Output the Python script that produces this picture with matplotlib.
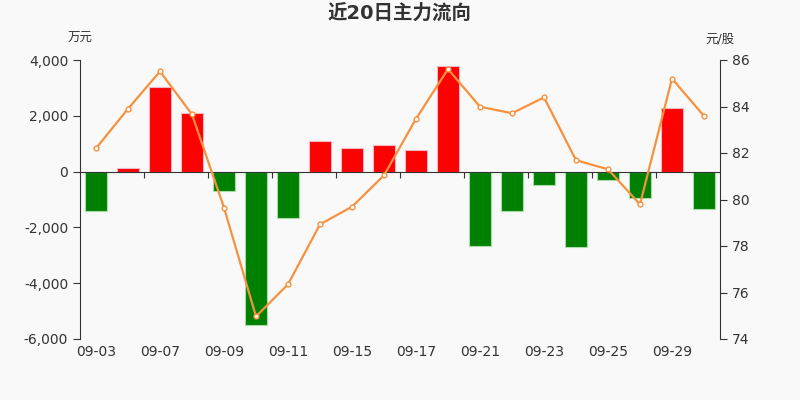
import matplotlib
matplotlib.use("Agg")
import matplotlib.pyplot as plt
import numpy as np

plt.rcParams['font.family'] = ['DejaVu Sans', 'Noto Sans CJK SC']

# data
dates = ['09-03', '09-04', '09-07', '09-08', '09-09', '09-10', '09-11', '09-14', '09-15', '09-16',
         '09-17', '09-18', '09-21', '09-22', '09-23', '09-24', '09-25', '09-28', '09-29', '09-30']
flow = [-1420, 130, 3020, 2100, -700, -5490, -1680, 1110, 850, 970,
        790, 3770, -2660, -1430, -490, -2690, -300, -930, 2280, -1330]
price = [82.20, 83.90, 85.51, 83.66, 79.65, 74.97, 76.35, 78.93, 79.69, 81.04,
         83.47, 85.61, 83.99, 83.71, 84.39, 81.69, 81.30, 79.79, 85.20, 83.59]

bg = '#f9f9f9'
txt = '#333333'

fig = plt.figure(figsize=(8, 4), dpi=100, facecolor=bg)
ax = fig.add_axes([0.1, 0.1525, 0.8, 0.6975], facecolor=bg)
x = np.arange(len(dates))

colors = ['#ff0000' if v > 0 else '#008000' for v in flow]
edges = ['#f4b6c2' if v > 0 else '#a8dca8' for v in flow]
ax.bar(x, flow, width=0.7, color=colors, edgecolor=edges, linewidth=0.8, zorder=2)

ax.set_xlim(-0.5, len(dates) - 0.5)
ax.set_ylim(-6000, 4000)
ax.set_yticks(range(-6000, 4001, 2000))
ax.yaxis.set_major_formatter(matplotlib.ticker.FuncFormatter(lambda v, p: f'{int(v):,}'))

for s in ['top', 'right']:
    ax.spines[s].set_visible(False)
ax.spines['left'].set_color(txt)
ax.spines['bottom'].set_position(('data', 0))
ax.spines['bottom'].set_color(txt)
ax.spines['bottom'].set_zorder(3)
ax.set_xticks(np.arange(1.5, len(dates) - 1, 2))
ax.tick_params(axis='x', length=4, color=txt, labelbottom=False)
ax.tick_params(axis='y', length=5, color=txt, labelcolor=txt, labelsize=10)

sec = ax.secondary_xaxis(0)
sec.set_xticks(x[::2])
sec.set_xticklabels(dates[::2])
sec.tick_params(length=0, labelcolor=txt, labelsize=10, pad=4)
sec.spines['bottom'].set_visible(False)

ax2 = ax.twinx()
ax2.plot(x, price, color='#f7913d', linewidth=1.6, marker='o', markersize=3.5,
         markerfacecolor='white', markeredgecolor='#f7913d', markeredgewidth=1, zorder=4)
ax2.set_ylim(74, 86)
ax2.set_yticks(range(74, 87, 2))
for s in ['top', 'left', 'bottom']:
    ax2.spines[s].set_visible(False)
ax2.spines['right'].set_color(txt)
ax2.tick_params(axis='y', length=5, color=txt, labelcolor=txt, labelsize=10)

fig.text(0.5, 0.967, '近20日主力流向', ha='center', va='center', fontsize=14,
         fontweight='bold', color=txt)
fig.text(0.1, 0.903, '万元', ha='center', va='center', fontsize=9, color=txt)
fig.text(0.9, 0.903, '元/股', ha='center', va='center', fontsize=9, color=txt)

fig.savefig('out.png', dpi=100, facecolor=bg)
